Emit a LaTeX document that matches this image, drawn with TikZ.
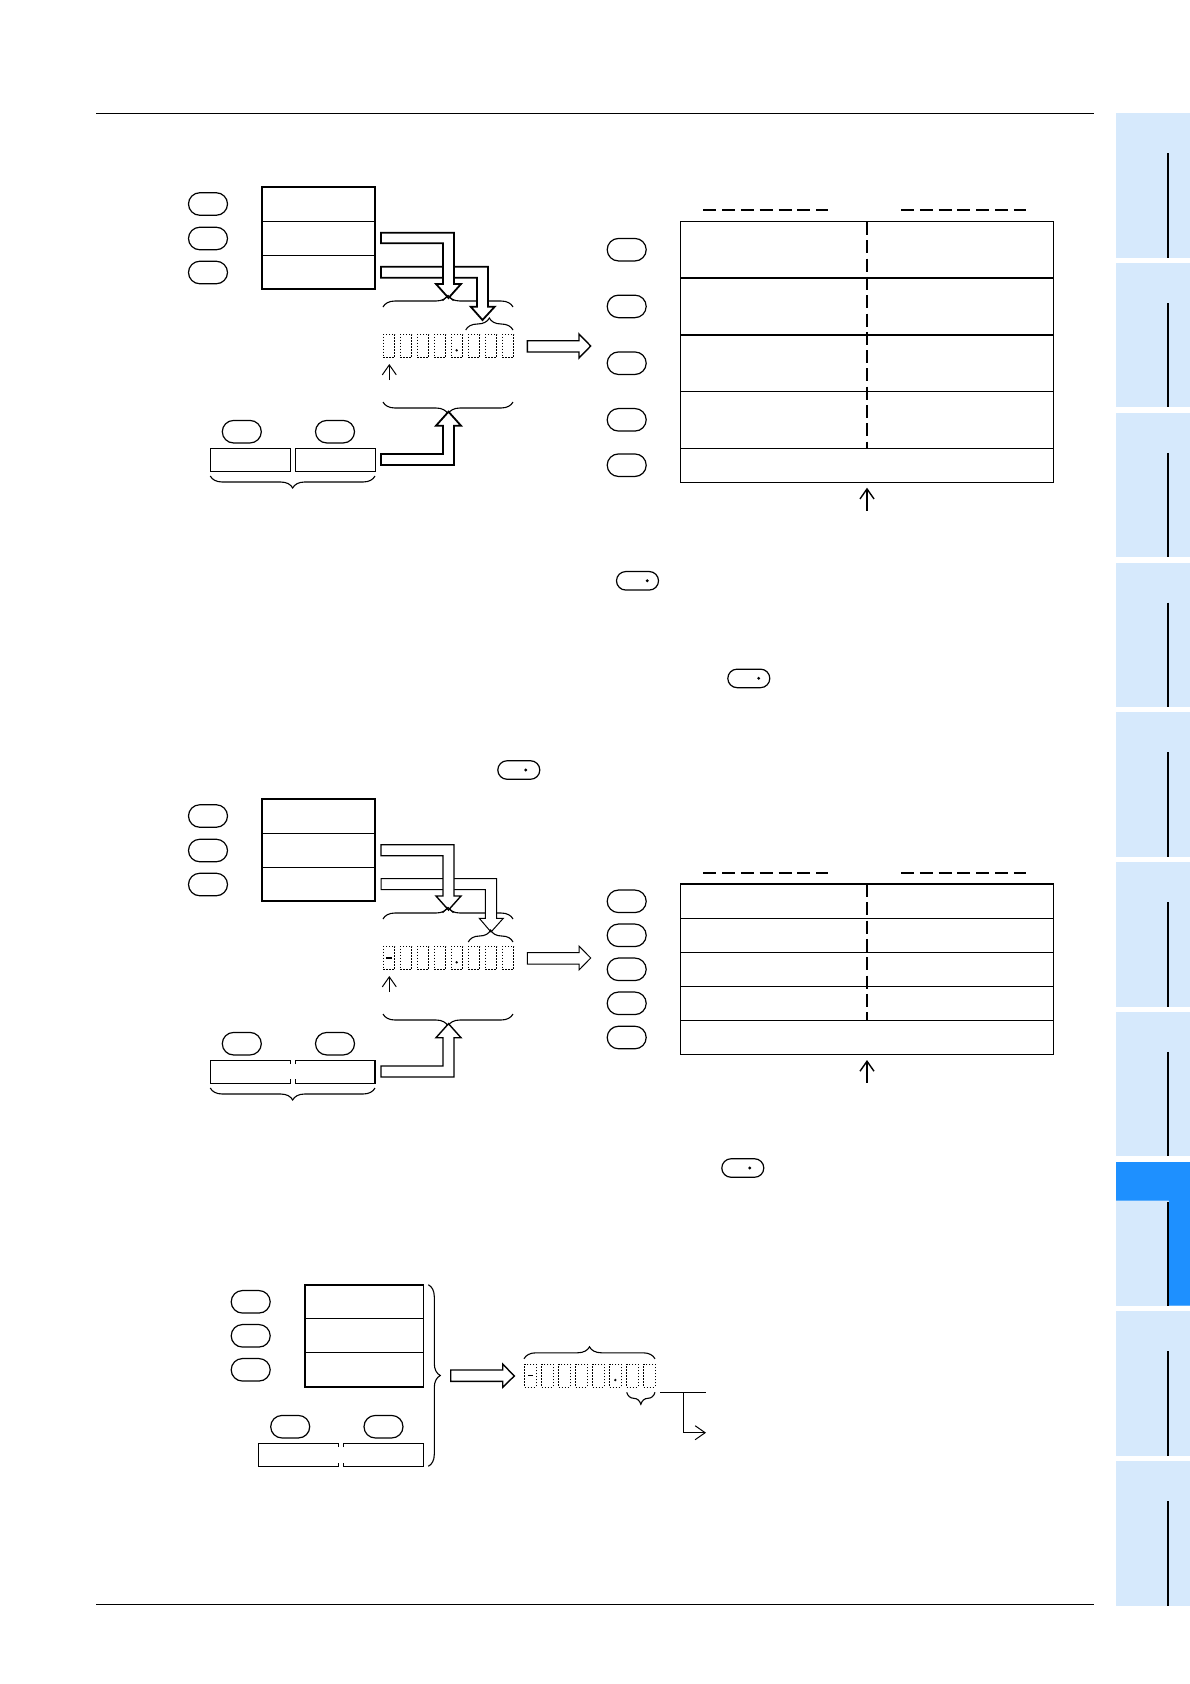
\documentclass[tikz,border=0pt]{standalone}
\usepackage{tikz}
\usepackage{xcolor}
\usetikzlibrary{arrows.meta,decorations.pathreplacing,shapes.misc}
\definecolor{tablight}{HTML}{D6E9FC}
\definecolor{tabblue}{HTML}{1E90FF}
\tikzset{
    pill/.style={draw,line width=1.2pt,rounded rectangle,minimum width=39pt,minimum height=22.5pt,inner sep=0pt},
    smallpill/.style={draw,line width=1.2pt,rounded rectangle,minimum width=42pt,minimum height=18.5pt,inner sep=0pt},
    cell/.style={draw,line width=1.2pt,minimum width=80pt,minimum height=23pt,inner sep=0pt},
    digit/.style={draw,line width=0.7pt,dash pattern=on 1.5pt off 1.5pt,minimum width=11.2pt,minimum height=23.2pt,inner sep=0pt},
    hollow/.style={draw,fill=white,line width=1.4pt,miter limit=10},
    hollowbold/.style={draw,fill=white,line width=1.8pt,miter limit=10},
    hollowthin/.style={draw,fill=white,line width=1pt},
    curly/.style={draw,line width=1.1pt,decorate,decoration={brace,amplitude=12pt}},
    pointer/.style={draw,line width=1pt,-{Straight Barb[length=10pt,width=14pt]}},
    headdash/.style={line width=1.6pt,dash pattern=on 13pt off 5.8pt},
    middash/.style={line width=1.6pt,dash pattern=on 13pt off 5.3pt},
}
\begin{document}
\begin{tikzpicture}[x=1pt,y=-1pt]
    \useasboundingbox (0,0) rectangle (1190,1684);

    % rules and side tabs
    \draw[line width=1pt] (96,113.7) -- (1094,113.7);
    \draw[line width=1pt] (96,1604.3) -- (1094,1604.3);
    \foreach \i in {0,...,9} {
        \fill[tablight] (1116,113.3+149.77*\i) rectangle (1190,257.7+149.77*\i);
        \draw[line width=2pt] (1168,153.3+149.77*\i) -- (1168,257.7+149.77*\i);
    }
    \fill[tabblue]
        (1116,1162) -- (1190,1162) -- (1190,1305.7) -- (1169,1305.7)
        -- (1169,1200.7) -- (1116,1200.7) -- cycle;

    % first group, left
    \foreach \y/\n in {204/1,238.5/2,272.5/3}
        \node[pill] (pa\n) at (208,\y) {};
    \draw[line width=1.3pt] (262,187) rectangle (375,289);
    \draw[line width=1pt] (262,221.5) -- (375,221.5);
    \draw[line width=1pt] (262,255) -- (375,255);
    \draw[curly] (383,307) -- (513,307);
    \draw[hollowbold]
        (381,266.7) -- (488,266.7) -- (488,306.7) -- (494.7,306.7) -- (482.5,320)
        -- (470.7,306.7) -- (477,306.7) -- (477,277.7) -- (381,277.7) -- cycle;
    \draw[hollowbold]
        (381,232.7) -- (454,232.7) -- (454,284) -- (461,284) -- (448.5,298)
        -- (436,284) -- (443,284) -- (443,243.3) -- (381,243.3) -- cycle;
    \draw[line width=1.1pt] (442.5,300.7) -- (448,295.5) -- (453.5,300.7);
    \draw[curly] (465.7,330) -- (513,330);
    \foreach \n in {1,...,8}
        \node[digit] (da\n) at (389+17*\n-17,345.8) {};
    \fill (456.7,350.3) circle (1.3pt);
    \coordinate (ua1) at (389.3,380);
    \coordinate (ua2) at (389.3,364);
    \draw[pointer] (ua1) -- (ua2);
    \draw[curly] (513,402) -- (383,402);
    \draw[hollowbold]
        (381,465) -- (454,465) -- (454,425.7) -- (461,425.7) -- (448.5,411.7)
        -- (436,425.7) -- (443,425.7) -- (443,454) -- (381,454) -- cycle;
    \node[pill] (pa4) at (241.8,431.7) {};
    \node[pill] (pa5) at (335,431.7) {};
    \node[cell] (ca1) at (250.3,459.8) {};
    \node[cell] (ca2) at (335.2,459.8) {};
    \draw[curly] (375,476) -- (210.3,476);
    \draw[hollow]
        (527.3,340.7) -- (579,340.7) -- (579,334) -- (590.7,346) -- (579,358)
        -- (579,352) -- (527.3,352) -- cycle;

    % first group, right
    \foreach \y/\n in {249.7/1,306.4/2,363.2/3,419.8/4,465.2/5}
        \node[pill] (ta\n) at (626.7,\y) {};
    \draw[line width=1pt] (680.3,221.3) rectangle (1053.3,482.3);
    \draw[line width=1.6pt] (680.3,278) -- (1053.3,278);
    \draw[line width=1.6pt] (680.3,335) -- (1053.3,335);
    \draw[line width=1pt] (680.3,391.3) -- (1053.3,391.3);
    \draw[line width=1pt] (680.3,448.3) -- (1053.3,448.3);
    \draw[middash] (867,222) -- (867,448);
    \draw[headdash] (703.3,210) -- (828.3,210);
    \draw[headdash] (901,210) -- (1026,210);
    \coordinate (ub1) at (867,510.7);
    \coordinate (ub2) at (867,487.7);
    \draw[pointer,line width=1.4pt] (ub1) -- (ub2);

    % small marks in the running text
    \node[smallpill] (sp1) at (637.5,580.8) {};
    \fill (647.3,580.7) circle (1.6pt);
    \node[smallpill] (sp2) at (748.8,678.4) {};
    \fill (758.7,678.3) circle (1.6pt);
    \node[smallpill] (sp3) at (518.8,770) {};
    \fill (525.7,770) circle (1.6pt);
    \node[smallpill] (sp4) at (742.8,1168) {};
    \fill (749.7,1168) circle (1.6pt);

    % second group, left
    \foreach \y/\n in {816/1,850.5/2,884.5/3}
        \node[pill] (pb\n) at (208,\y) {};
    \draw[line width=1.8pt] (262,799) rectangle (375,901);
    \draw[line width=1pt] (262,833.3) -- (375,833.3);
    \draw[line width=1pt] (262,867.3) -- (375,867.3);
    \draw[curly] (383,919) -- (513,919);
    \draw[hollowthin]
        (381,878.7) -- (496.7,878.7) -- (496.7,918.3) -- (503.3,918.3) -- (491,932)
        -- (479.3,918.3) -- (485.3,918.3) -- (485.3,889.7) -- (381,889.7) -- cycle;
    \draw[hollow]
        (381,844.7) -- (454,844.7) -- (454,896) -- (461,896) -- (448.5,910)
        -- (436,896) -- (443,896) -- (443,855.7) -- (381,855.7) -- cycle;
    \draw[line width=1.1pt] (442.5,912.7) -- (448,907.5) -- (453.5,912.7);
    \draw[curly] (468.3,942) -- (513,942);
    \foreach \n in {1,...,8}
        \node[digit] (db\n) at (389+17*\n-17,957.8) {};
    \draw[line width=1.5pt] (386,958) -- (392,958);
    \fill (456.7,962.3) circle (1.3pt);
    \coordinate (uc1) at (389.3,992);
    \coordinate (uc2) at (389.3,976);
    \draw[pointer] (uc1) -- (uc2);
    \draw[curly] (513,1014) -- (383,1014);
    \draw[hollow]
        (381,1077) -- (454,1077) -- (454,1037.7) -- (461,1037.7) -- (448.5,1023.7)
        -- (436,1037.7) -- (443,1037.7) -- (443,1066) -- (381,1066) -- cycle;
    \node[pill] (pb4) at (241.8,1043.7) {};
    \node[pill] (pb5) at (335,1043.7) {};
    \draw[line width=1.2pt]
        (290.3,1064) -- (290.3,1060.3) -- (210.3,1060.3) -- (210.3,1083.3)
        -- (290.3,1083.3) -- (290.3,1079);
    \draw[line width=1.2pt]
        (295.3,1064) -- (295.3,1060.3) -- (375,1060.3) -- (375,1083.3)
        -- (295.3,1083.3) -- (295.3,1079);
    \draw[curly] (375,1088) -- (210.3,1088);
    \draw[hollowthin]
        (527.3,952.7) -- (579,952.7) -- (579,946) -- (590.7,958) -- (579,970)
        -- (579,964) -- (527.3,964) -- cycle;

    % second group, right
    \foreach \y/\n in {901.3/1,935.3/2,969.3/3,1003.3/4,1037.5/5}
        \node[pill] (tb\n) at (626.7,\y) {};
    \draw[line width=1pt] (680.3,883.7) rectangle (1053.3,1054.3);
    \draw[line width=1.6pt] (680.3,883.7) -- (1053.3,883.7);
    \foreach \y in {918.3,952.3,986.3,1020.3}
        \draw[line width=1pt] (680.3,\y) -- (1053.3,\y);
    \draw[middash] (867,884) -- (867,1020);
    \draw[headdash] (703.3,873) -- (828.3,873);
    \draw[headdash] (901,873) -- (1026,873);
    \coordinate (ud1) at (867,1082.7);
    \coordinate (ud2) at (867,1060);
    \draw[pointer,line width=1.4pt] (ud1) -- (ud2);

    % third group
    \foreach \y/\n in {1301.8/1,1335.8/2,1369.8/3}
        \node[pill] (pc\n) at (250.7,\y) {};
    \draw[line width=1.6pt] (304.7,1284.7) rectangle (423.3,1387);
    \draw[line width=1.4pt] (304.7,1318.7) -- (423.3,1318.7);
    \draw[line width=1.4pt] (304.7,1352.7) -- (423.3,1352.7);
    \node[pill] (pc4) at (290.2,1426.7) {};
    \node[pill] (pc5) at (383.5,1426.7) {};
    \draw[line width=1.5pt]
        (338.7,1447) -- (338.7,1443.7) -- (258.7,1443.7) -- (258.7,1466.3)
        -- (338.7,1466.3) -- (338.7,1463);
    \draw[line width=1.2pt]
        (343.3,1447) -- (343.3,1443.7) -- (423.3,1443.7) -- (423.3,1466.3)
        -- (343.3,1466.3) -- (343.3,1463);
    \draw[curly] (428.3,1284.7) -- (428.3,1466.3);
    \draw[hollow]
        (450.7,1370) -- (502.7,1370) -- (502.7,1364) -- (514.3,1376) -- (502.7,1387.3)
        -- (502.7,1381.3) -- (450.7,1381.3) -- cycle;
    \foreach \n in {1,...,8}
        \node[digit] (dc\n) at (530.3+17*\n-17,1375.5) {};
    \draw[line width=0.9pt] (528.3,1375.3) -- (533.3,1375.3);
    \fill (615.3,1380) circle (1.3pt);
    \draw[curly] (524,1358.8) -- (655,1358.8);
    \draw[curly] (655,1392.3) -- (626.7,1392.3);
    \coordinate (te1) at (660,1392.3);
    \coordinate (te2) at (706,1392.3);
    \coordinate (te3) at (683.3,1392.3);
    \coordinate (te4) at (706,1432.7);
    \draw[line width=1pt] (te1) -- (te2);
    \draw[pointer] (te3) |- (te4);
\end{tikzpicture}
\end{document}
